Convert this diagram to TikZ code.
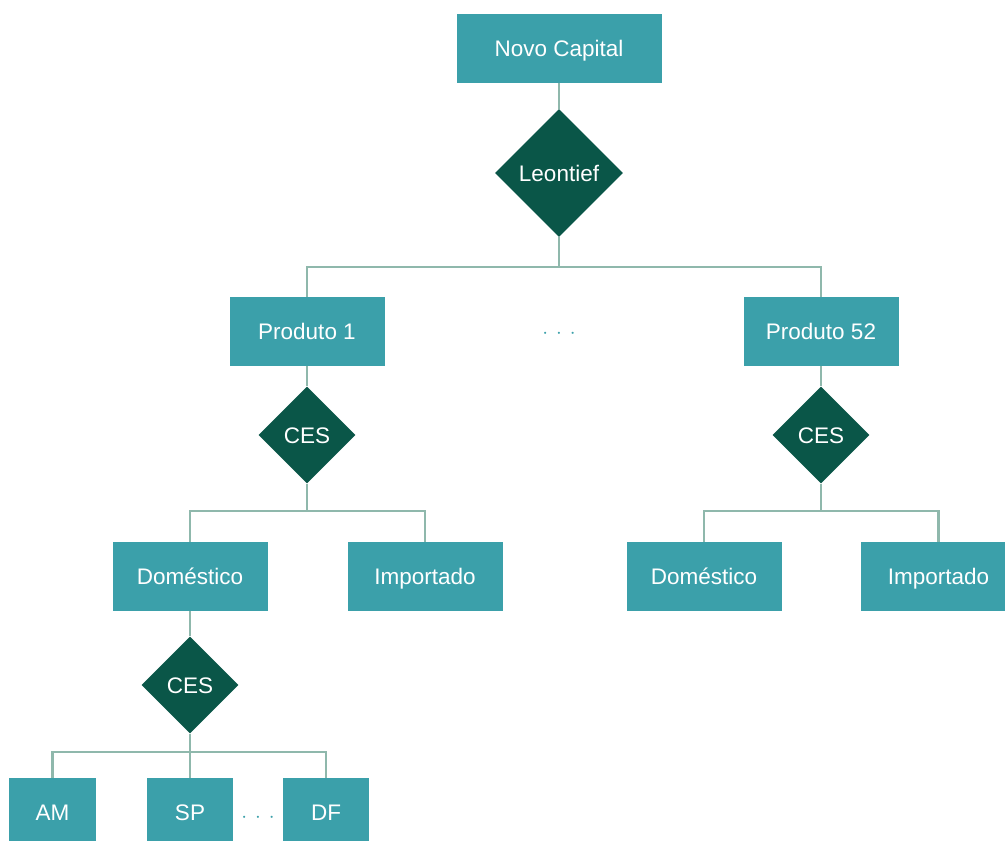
\documentclass[tikz,border=0pt]{standalone}
\usepackage{fontspec}
\setmainfont{Liberation Sans}
\usetikzlibrary{shapes.geometric}
\definecolor{boxc}{HTML}{3BA0AA}
\definecolor{diac}{HTML}{0A5648}
\definecolor{linec}{HTML}{8FB8AC}
\tikzset{
  box/.style={rectangle, fill=boxc, text=white, minimum height=69pt, inner sep=0pt, text height=16pt, text depth=0pt, font=\fontsize{22.5}{26}\selectfont},
  dia/.style={diamond, fill=diac, text=white, inner sep=0pt, text height=16pt, text depth=0pt, font=\fontsize{22.5}{26}\selectfont, aspect=1},
  conn/.style={draw=linec, line width=2.6pt},
  dots/.style={text=boxc, font=\fontsize{20}{24}\selectfont}
}
\begin{document}
\begin{tikzpicture}[x=1pt,y=-1pt]
\useasboundingbox (0,0) rectangle (1005,841);
\begin{scope}
\clip (0,0) rectangle (1005,841);
\node[box, minimum width=205pt] (nc) at (559,48.5) {Novo Capital};
\node[dia, minimum width=128pt, minimum height=128pt] (leo) at (559,173) {Leontief};
\node[box, minimum width=155pt] (p1) at (307,331.5) {Produto 1};
\node[box, minimum width=155pt] (p52) at (821,331.5) {Produto 52};
\node[dots] (d1) at (559,334) {$\cdot\,\cdot\,\cdot$};
\node[dia, minimum width=97pt, minimum height=97pt] (ces1) at (307,435) {CES};
\node[dia, minimum width=97pt, minimum height=97pt] (ces2) at (821,435) {CES};
\node[box, minimum width=155pt] (dom1) at (190,576.5) {Doméstico};
\node[box, minimum width=155pt] (imp1) at (425,576.5) {Importado};
\node[box, minimum width=155pt] (dom2) at (704,576.5) {Doméstico};
\node[box, minimum width=155pt] (imp2) at (938.5,576.5) {Importado};
\node[dia, minimum width=97pt, minimum height=97pt] (ces3) at (190,685) {CES};
\node[box, minimum width=87pt] (am) at (52.5,812.5) {AM};
\node[box, minimum width=86pt] (sp) at (190,812.5) {SP};
\node[box, minimum width=86pt] (df) at (326,812.5) {DF};
\node[dots] (d2) at (258,818) {$\cdot\,\cdot\,\cdot$};
\end{scope}
\coordinate (j0) at (559,267);
\coordinate (j1) at (307,511);
\coordinate (j2) at (821,511);
\coordinate (j3) at (190,752);
\draw[conn] (nc.south) -- (leo.north);
\draw[conn] (leo.south) -- (j0);
\draw[conn] (p1.north) |- (j0) -| (p52.north);
\draw[conn] (p1.south) -- (ces1.north);
\draw[conn] (p52.south) -- (ces2.north);
\draw[conn] (ces1.south) -- (j1);
\draw[conn] (dom1.north) |- (j1) -| (imp1.north);
\draw[conn] (ces2.south) -- (j2);
\draw[conn] (dom2.north) |- (j2) -| (imp2.north);
\draw[conn] (dom1.south) -- (ces3.north);
\draw[conn] (ces3.south) -- (j3);
\draw[conn] (am.north) |- (j3) -| (df.north);
\draw[conn] (j3) -- (sp.north);
\end{tikzpicture}
\end{document}
